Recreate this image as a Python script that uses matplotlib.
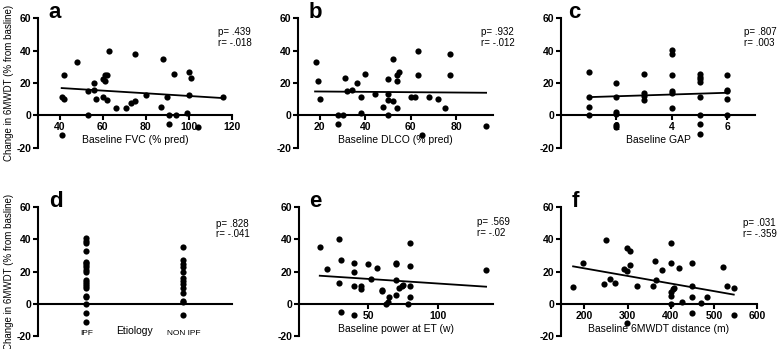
import numpy as np
import matplotlib
matplotlib.use("Agg")
import matplotlib.pyplot as plt

plt.rcParams['font.family'] = ['Liberation Sans', 'DejaVu Sans']
plt.rcParams['axes.unicode_minus'] = False

# ---- data ----
# a: baseline FVC
fvc = [41, 41, 42, 42, 48, 53, 53, 56, 56, 57, 60, 60, 61, 61, 62, 62, 63, 66, 71, 73,
       75, 75, 80, 88, 87, 90, 91, 91, 93, 94, 99, 100, 100, 101, 104, 116]
fvc_change = [-12, 11, 10, 25, 33, 15, 0, 20, 15.5, 10.3, 22.4, 11, 21.3, 24.6, 24.6, 9.3, 40, 4.5, 4.5, 7.5,
              8.9, 37.7, 12.8, 35, 5.2, 11, 0, -5.2, 25.5, 0, 1.4, 27, 12.8, 23, -7, 11]
fvc_fit_x = [41, 116]
fvc_fit_y = [16.8, 10.6]

# b: baseline DLCO
dlco = [18.3, 19.1, 20.3, 28.2, 28.2, 30.2, 31.2, 32.2, 34.3, 36.2, 38, 38, 40, 44.2, 48, 50, 50, 50, 50, 52,
        52, 54, 54, 54, 55, 60, 62, 63, 63, 65, 68, 71.7, 75, 77, 77, 93]
dlco_change = [32.9, 21.3, 10.1, 0, -5.6, 0, 23, 14.7, 15.3, 19.7, 11, 1.4, 25.5, 13, 5, 22.6, 13, 9.3, 0.2, 8.7,
               35, 4.5, 21, 25, 27, 11, 11, 40, 25, -12, 11, 10.1, 4.5, 37.7, 24.6, -6.8]
dlco_fit_x = [18, 93]
dlco_fit_y = [14.7, 13.9]

# c: baseline GAP
gap = [1, 1, 1, 1, 2, 2, 2, 2, 2, 2, 3, 3, 3, 3, 4, 4, 4, 4, 4, 4,
       5, 5, 5, 5, 5, 5, 5, 5, 6, 6, 6, 6, 6]
gap_change = [27, 11, 5, 0, 20, 11, 1.9, 1, -5.8, -7.2, 25.5, 13.5, 12.2, 9.7, 40.4, 37.7, 24.6, 15.1, 13.9, 4.3,
              25.5, 23.8, 22.2, 20.7, 11, 0, -5.6, -11.8, 25, 15.7, 14.9, 10.1, 0]
gap_fit_x = [1, 6]
gap_fit_y = [11.2, 13.9]

# d: etiology
etiology_labels = ['IPF', 'NON IPF']
ipf_change = [40.5, 39, 37.5, 33, 26, 25, 24, 22.5, 21, 19.5, 15, 13.5, 12, 11, 9.5, 5, 4.5, 0, -5.5, -11.5]
nonipf_change = [35, 27, 24.5, 22.5, 20, 16, 14, 12, 9.5, 7, 1.5, 1, -7]

# e: baseline power at ET
power = [15, 20, 29, 30, 29, 30, 40, 40, 40, 40, 45, 45, 50, 52, 56, 60, 60, 63, 64, 65,
         70, 70, 70, 70, 72, 74, 75, 80, 80, 80, 80, 79, 135]
power_change = [35.2, 21.5, 40, 26.9, 13, -5.2, 25, 20, 11.2, -7, 11.2, 9.1, 24.6, 15.5, 22.4, 8.7, 7.7, 0, 1.2, 4.1,
                25.5, 24.8, 14.9, 5.2, 9.7, 11, 11.4, 37.7, 23.4, 11.2, 4.3, 0, 21.1]
power_fit_x = [15, 135]
power_fit_y = [17.4, 10.6]

# f: baseline 6MWDT distance
dist = [174, 198, 245, 250, 260, 270, 293, 299, 299, 305, 305, 321, 360, 364, 367, 381, 400, 400, 400, 400,
        405, 408, 400, 419, 427, 450, 450, 450, 450, 471, 483, 520, 530, 546, 546, 299]
dist_change = [10.3, 25, 12.3, 39.8, 15.4, 12.9, 21.5, 20.3, 34.7, 32.8, 24.2, 10.9, 10.9, 26.7, 14.8, 20.9, 37.5, 25, 7.6, 5.1,
               9.2, 9.8, 0, 22.2, 1.4, 25.2, 10.9, 4.5, -5.5, 0.2, 4.5, 23, 10.9, 10, -6.8, -11.7]
dist_fit_x = [174, 546]
dist_fit_y = [23.2, 5.7]

stats = {'a': ('.439', '-.018'), 'b': ('.932', '-.012'), 'c': ('.807', '.003'),
         'd': ('.828', '-.041'), 'e': ('.569', '-.02'), 'f': ('.031', '-.359')}

ylabel = 'Change in 6MWDT (% from basline)'

fig = plt.figure(figsize=(7.78, 3.49), dpi=100)

top_b, top_h = 0.577, 0.371
bot_b, bot_h = 0.037, 0.370
ax_a = fig.add_axes([0.0488, top_b, 0.2494, top_h])
ax_b = fig.add_axes([0.383, top_b, 0.2506, top_h])
ax_c = fig.add_axes([0.7211, top_b, 0.2494, top_h])
ax_d = fig.add_axes([0.0488, bot_b, 0.2494, bot_h])
ax_e = fig.add_axes([0.3843, bot_b, 0.2494, bot_h])
ax_f = fig.add_axes([0.7211, bot_b, 0.252, bot_h])


def style(ax, letter, xlim, xticks, stat_pos, letter_x):
    ax.set_xlim(*xlim)
    ax.set_ylim(-20, 60)
    ax.set_yticks([-20, 0, 20, 40, 60])
    ax.set_xticks(xticks)
    ax.spines['top'].set_visible(False)
    ax.spines['right'].set_visible(False)
    ax.spines['bottom'].set_position(('data', 0))
    for s in ('left', 'bottom'):
        ax.spines[s].set_linewidth(1.5)
    ax.tick_params(width=1.5, length=3.5, labelsize=7.5, pad=1.5, direction='out')
    for lab in ax.get_yticklabels() + ax.get_xticklabels():
        lab.set_fontweight('bold')
    ax.patch.set_visible(False)
    p, r = stats[letter]
    ax.text(stat_pos[0], stat_pos[1], 'p= %s\nr= %s' % (p, r), transform=ax.transAxes,
            ha='left', va='top', fontsize=7, linespacing=1.1, clip_on=False)
    ax.text(letter_x, 1.0, letter, transform=ax.transAxes, ha='left', va='baseline',
            fontsize=16, fontweight='bold')


def scatter_fit(ax, x, y, fx, fy):
    ax.scatter(x, y, s=20, color='black', zorder=3, clip_on=False, linewidths=0)
    ax.plot(fx, fy, color='black', lw=1.3, zorder=3)


scatter_fit(ax_a, fvc, fvc_change, fvc_fit_x, fvc_fit_y)
style(ax_a, 'a', (30, 120), [40, 60, 80, 100, 120], (0.93, 0.93), 0.055)
ax_a.set_xlabel('Baseline FVC (% pred)', fontsize=7.5, labelpad=2)
ax_a.set_ylabel(ylabel, fontsize=7, labelpad=1.5)

scatter_fit(ax_b, dlco, dlco_change, dlco_fit_x, dlco_fit_y)
style(ax_b, 'b', (10.5, 96), [20, 40, 60, 80], (0.94, 0.93), 0.055)
ax_b.set_xlabel('Baseline DLCO (% pred)', fontsize=7.5, labelpad=2)

scatter_fit(ax_c, gap, gap_change, gap_fit_x, gap_fit_y)
style(ax_c, 'c', (0, 7), [2, 4, 6], (0.945, 0.93), 0.035)
ax_c.set_xlabel('Baseline GAP', fontsize=7.5, labelpad=2)

ax_d.scatter([1] * len(ipf_change), ipf_change, s=20, color='black', zorder=3, linewidths=0)
ax_d.scatter([2] * len(nonipf_change), nonipf_change, s=20, color='black', zorder=3, linewidths=0)
style(ax_d, 'd', (0.5, 2.5), [1, 2], (0.92, 0.91), 0.055)
ax_d.set_xticklabels(etiology_labels)
ax_d.tick_params(axis='x', length=0, pad=19, labelsize=6)
for lab in ax_d.get_xticklabels():
    lab.set_fontweight('normal')
ax_d.text(1.5, -16.8, 'Etiology', ha='center', va='center', fontsize=7.5)
ax_d.set_ylabel(ylabel, fontsize=7, labelpad=1.5)

scatter_fit(ax_e, power, power_change, power_fit_x, power_fit_y)
style(ax_e, 'e', (0, 140), [50, 100], (0.92, 0.92), 0.05)
ax_e.set_xlabel('Baseline power at ET (w)', fontsize=7.5, labelpad=2)

scatter_fit(ax_f, dist, dist_change, dist_fit_x, dist_fit_y)
style(ax_f, 'f', (146, 600), [200, 300, 400, 500, 600], (0.93, 0.915), 0.055)
ax_f.set_xlabel('Baseline 6MWDT distance (m)', fontsize=7.5, labelpad=2)

fig.savefig('out.png', dpi=100)
